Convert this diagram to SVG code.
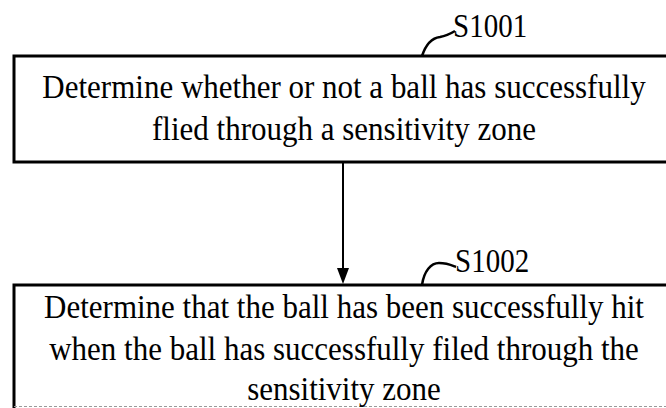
<svg xmlns="http://www.w3.org/2000/svg" width="666" height="408" viewBox="0 0 666 408">
<style>
.box{fill:#fff;stroke:#000;stroke-width:3}
.t{font-family:'Liberation Serif','DejaVu Serif',serif;font-size:31px;fill:#000;text-anchor:middle}
.lbl{font-family:'Liberation Serif','DejaVu Serif',serif;font-size:29px;fill:#000}
.lead{fill:none;stroke:#000;stroke-width:2.5}
</style>
<rect width="666" height="408" fill="#fff"/>
<g id="node-s1001">
<rect class="box" x="14" y="56" width="680" height="106"/>
<text class="t" transform="translate(344,98) scale(1,1.12)">Determine whether or not a ball has successfully</text>
<text class="t" transform="translate(344,140) scale(1,1.12)">flied through a sensitivity zone</text>
</g>
<g id="label-s1001">
<path class="lead" d="M422,56 C426,44 432,38 440,37 C446,36 450,34 455,31"/>
<text class="lbl" transform="translate(453,37) scale(1,1.15)">S1001</text>
</g>
<g id="node-s1002">
<rect x="14" y="285" width="680" height="130" fill="#fff"/>
<path d="M694,285 H14 V408" fill="none" stroke="#000" stroke-width="3"/>
<line x1="14" y1="406.5" x2="666" y2="406.5" stroke="#999" stroke-width="1" stroke-dasharray="3 2"/>
<text class="t" transform="translate(344,318) scale(1,1.12)">Determine that the ball has been successfully hit</text>
<text class="t" transform="translate(344,360) scale(1,1.12)">when the ball has successfully filed through the</text>
<text class="t" transform="translate(344,400) scale(1,1.12)">sensitivity zone</text>
</g>
<g id="label-s1002">
<path class="lead" d="M422,285 C424,271 431,263 439,263 C447,263 451,265 456,267"/>
<text class="lbl" transform="translate(455,272) scale(1,1.15)">S1002</text>
</g>
<g id="connectors">
<path d="M343,162 L343,270" stroke="#000" stroke-width="2" fill="none"/>
<path d="M337,268 L349,268 L343,284 Z" fill="#000"/>
</g>
</svg>
